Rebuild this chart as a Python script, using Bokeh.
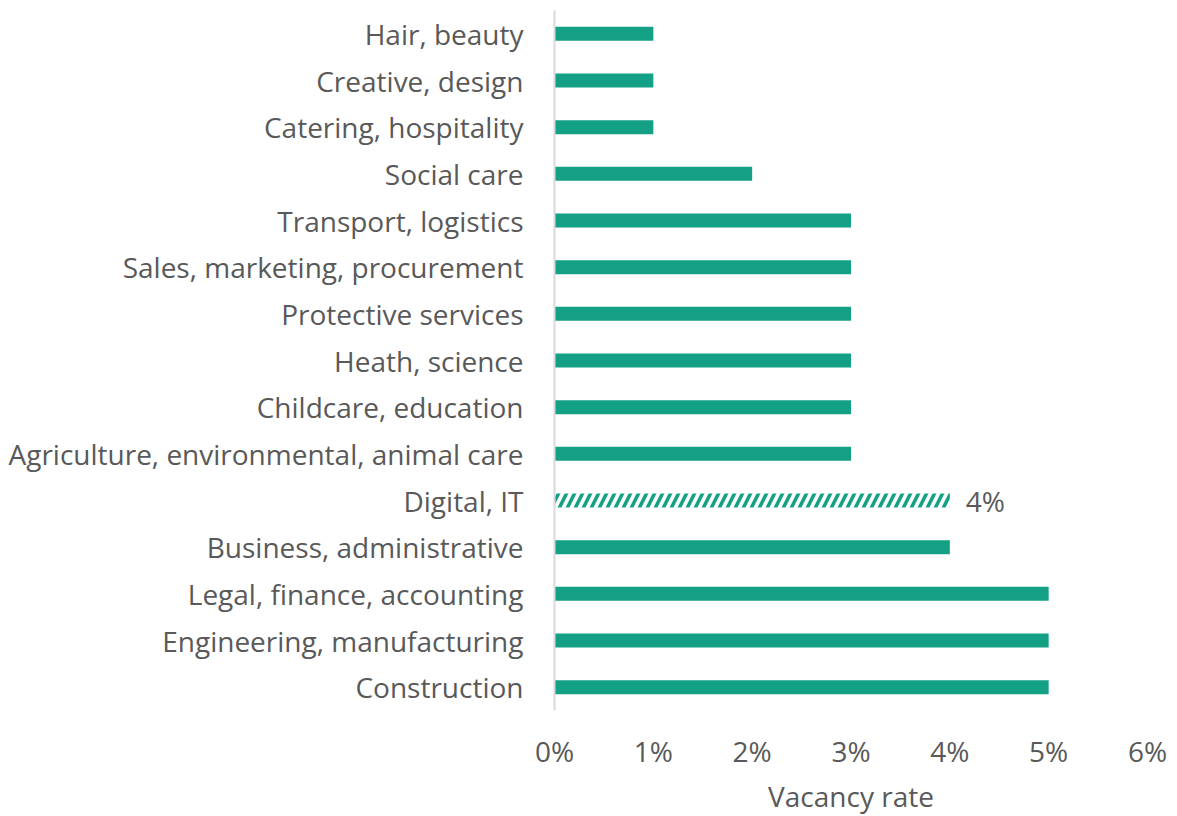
from bokeh.plotting import figure
from bokeh.models import ColumnDataSource, FixedTicker, NumeralTickFormatter, Range1d, Title
from bokeh.core.properties import value
from bokeh.embed import file_html
from bokeh.resources import INLINE

# Occupation groups, bottom to top, with their vacancy rates
categories = [
    "Construction",
    "Engineering, manufacturing",
    "Legal, finance, accounting",
    "Business, administrative",
    "Digital, IT",
    "Agriculture, environmental, animal care",
    "Childcare, education",
    "Heath, science",
    "Protective services",
    "Sales, marketing, procurement",
    "Transport, logistics",
    "Social care",
    "Catering, hospitality",
    "Creative, design",
    "Hair, beauty",
]
rates = [0.05, 0.05, 0.05, 0.04, 0.04, 0.03, 0.03, 0.03, 0.03, 0.03, 0.03, 0.02, 0.01, 0.01, 0.01]
highlight = "Digital, IT"
x_ticks = [0, 0.01, 0.02, 0.03, 0.04, 0.05, 0.06]
x_title = "Vacancy rate"

TEAL = "#13a085"
TEXT = "#595959"
FONT = "Open Sans"
SIZE = "28px"

solid = ColumnDataSource(dict(
    cat=[c for c in categories if c != highlight],
    rate=[r for c, r in zip(categories, rates) if c != highlight],
))
hatched = ColumnDataSource(dict(
    cat=[c for c in categories if c == highlight],
    rate=[r for c, r in zip(categories, rates) if c == highlight],
    label=["{:.0%}".format(r) for c, r in zip(categories, rates) if c == highlight],
))

p = figure(
    width=1177, height=816,
    y_range=categories,
    x_range=Range1d(0, 0.06),
    output_backend="svg",
    toolbar_location=None,
    min_border_left=554, min_border_right=30,
    min_border_top=10, min_border_bottom=105,
)

p.hbar(y="cat", right="rate", left=0, height=0.3, source=solid,
       fill_color=TEAL, line_color=None)
p.hbar(y="cat", right="rate", left=0, height=0.3, source=hatched,
       fill_color="white", line_color=None,
       hatch_pattern="right_diagonal_line", hatch_color=TEAL,
       hatch_scale=16, hatch_weight=3.5)
p.text(x="rate", y="cat", text="label", source=hatched,
       x_offset=16, text_baseline="middle", text_align="left",
       text_font=value(FONT), text_font_size=SIZE, text_color=TEXT)

p.outline_line_color = None
p.grid.grid_line_color = None

# vertical category axis: thin grey line, no ticks
p.yaxis.axis_line_color = "#d9d9d9"
p.yaxis.axis_line_width = 2
p.yaxis.major_tick_line_color = None
p.yaxis.minor_tick_line_color = None
p.yaxis.major_label_standoff = 25
p.yaxis.major_label_text_font = FONT
p.yaxis.major_label_text_font_size = SIZE
p.yaxis.major_label_text_color = TEXT

# horizontal value axis: labels only
p.xaxis.ticker = FixedTicker(ticks=x_ticks)
p.xaxis.formatter = NumeralTickFormatter(format="0%")
p.xaxis.axis_line_color = None
p.xaxis.major_tick_line_color = None
p.xaxis.minor_tick_line_color = None
p.xaxis.major_label_standoff = 15
p.xaxis.major_label_text_font = FONT
p.xaxis.major_label_text_font_size = SIZE
p.xaxis.major_label_text_color = TEXT

# axis title centred under the value axis
p.add_layout(Title(
    text=x_title, align="center", standoff=4,
    text_font=FONT, text_font_size=SIZE, text_font_style="normal",
    text_color=TEXT,
), "below")

open("out.html", "w").write(file_html(p, INLINE))
